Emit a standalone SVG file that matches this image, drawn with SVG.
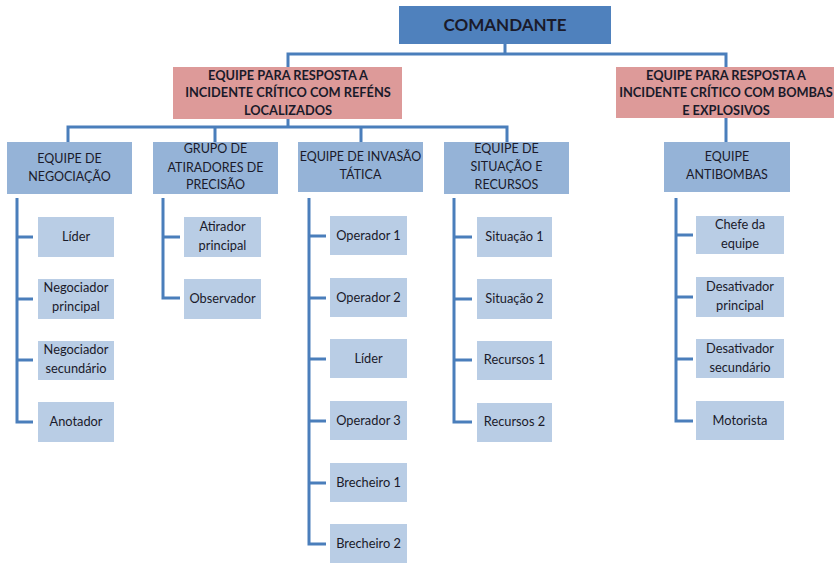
<svg xmlns="http://www.w3.org/2000/svg" width="836" height="564" viewBox="0 0 836 564">
<style>
.top{fill:#4f81bd}
.pink{fill:#dd9a99}
.l2{fill:#95b3d7}
.leaf{fill:#b9cde5}
text{font-family:Lato,"Open Sans","Liberation Sans",sans-serif;text-anchor:middle;fill:#1a1a2a}
.t0{font-size:17px;font-weight:bold}
.tp{font-size:12.8px;font-weight:bold}
.t2{font-size:12.5px}
.t3{font-size:12.8px}
.ln{fill:none;stroke:#4a7ebb;stroke-width:3}
</style>
<rect width="836" height="564" fill="#fff"/>
<g id="connectors">
<path class="ln" d="M505,44 V54 M288,67 V54 H726 V67 M726,118 V142"/>
<path class="ln" d="M288,119 V127 M68,142 V127 H507 V142 M215,127 V142 M361,127 V142"/>
<path class="ln" d="M17,198 V422 H33 M17,237 H33 M17,299 H33 M17,360 H33"/>
<path class="ln" d="M163,198 V298 H180 M163,237 H180"/>
<path class="ln" d="M309,198 V544 H326 M309,236 H326 M309,298 H326 M309,359 H326 M309,421 H326 M309,483 H326"/>
<path class="ln" d="M454,198 V422 H472 M454,237 H472 M454,299 H472 M454,360 H472"/>
<path class="ln" d="M676,198 V421 H693 M676,235 H693 M676,297 H693 M676,359 H693"/>
</g>
<g id="comandante"><rect class="top" x="399" y="6" width="212" height="38"/><text class="t0" x="505" y="31">COMANDANTE</text></g>
<g id="refens"><rect class="pink" x="173" y="67" width="229" height="52"/>
<text class="tp"><tspan x="288" y="80">EQUIPE PARA RESPOSTA A</tspan><tspan x="288" y="97">INCIDENTE CRÍTICO COM REFÉNS</tspan><tspan x="288" y="115">LOCALIZADOS</tspan></text></g>
<g id="bombas"><rect class="pink" x="616" y="67" width="218" height="51"/>
<text class="tp"><tspan x="726" y="80">EQUIPE PARA RESPOSTA A</tspan><tspan x="726" y="97">INCIDENTE CRÍTICO COM BOMBAS</tspan><tspan x="726" y="115">E EXPLOSIVOS</tspan></text></g>
<g id="negociacao"><rect class="l2" x="7" y="142" width="125" height="52"/><text class="t2"><tspan x="69.5" y="163">EQUIPE DE</tspan><tspan x="69.5" y="181">NEGOCIAÇÃO</tspan></text></g>
<g id="atiradores"><rect class="l2" x="153" y="142" width="125" height="52"/><text class="t2"><tspan x="215.5" y="153">GRUPO DE</tspan><tspan x="215.5" y="172">ATIRADORES DE</tspan><tspan x="215.5" y="189">PRECISÃO</tspan></text></g>
<g id="invasao"><rect class="l2" x="298" y="142" width="125" height="50"/><text class="t2"><tspan x="360.5" y="161">EQUIPE DE INVASÃO</tspan><tspan x="360.5" y="179">TÁTICA</tspan></text></g>
<g id="situacao"><rect class="l2" x="444" y="142" width="125" height="52"/><text class="t2"><tspan x="506.5" y="153">EQUIPE DE</tspan><tspan x="506.5" y="171">SITUAÇÃO E</tspan><tspan x="506.5" y="189">RECURSOS</tspan></text></g>
<g id="antibombas"><rect class="l2" x="664" y="142" width="126" height="50"/><text class="t2"><tspan x="727" y="161">EQUIPE</tspan><tspan x="727" y="179">ANTIBOMBAS</tspan></text></g>
<g id="neg-lider"><rect class="leaf" x="38" y="217" width="76" height="40"/><text class="t3" x="76" y="241">Líder</text></g>
<g id="neg-principal"><rect class="leaf" x="38" y="279" width="76" height="40"/><text class="t3"><tspan x="76" y="292">Negociador</tspan><tspan x="76" y="311">principal</tspan></text></g>
<g id="neg-secundario"><rect class="leaf" x="38" y="341" width="76" height="39"/><text class="t3"><tspan x="76" y="354">Negociador</tspan><tspan x="76" y="373">secundário</tspan></text></g>
<g id="neg-anotador"><rect class="leaf" x="38" y="402" width="76" height="40"/><text class="t3" x="76" y="426">Anotador</text></g>
<g id="at-principal"><rect class="leaf" x="184" y="217" width="77" height="40"/><text class="t3"><tspan x="222.5" y="231">Atirador</tspan><tspan x="222.5" y="250">principal</tspan></text></g>
<g id="at-observador"><rect class="leaf" x="184" y="279" width="77" height="40"/><text class="t3" x="222.5" y="303">Observador</text></g>
<g id="inv-op1"><rect class="leaf" x="330" y="216" width="77" height="39"/><text class="t3" x="368.5" y="240">Operador 1</text></g>
<g id="inv-op2"><rect class="leaf" x="330" y="278" width="77" height="39"/><text class="t3" x="368.5" y="302">Operador 2</text></g>
<g id="inv-lider"><rect class="leaf" x="330" y="339" width="77" height="39"/><text class="t3" x="368.5" y="363">Líder</text></g>
<g id="inv-op3"><rect class="leaf" x="330" y="401" width="77" height="39"/><text class="t3" x="368.5" y="425">Operador 3</text></g>
<g id="inv-brech1"><rect class="leaf" x="330" y="463" width="77" height="39"/><text class="t3" x="368.5" y="487">Brecheiro 1</text></g>
<g id="inv-brech2"><rect class="leaf" x="330" y="524" width="77" height="39"/><text class="t3" x="368.5" y="548">Brecheiro 2</text></g>
<g id="sit-1"><rect class="leaf" x="477" y="217" width="75" height="40"/><text class="t3" x="514.5" y="241">Situação 1</text></g>
<g id="sit-2"><rect class="leaf" x="477" y="279" width="75" height="40"/><text class="t3" x="514.5" y="303">Situação 2</text></g>
<g id="rec-1"><rect class="leaf" x="477" y="341" width="75" height="39"/><text class="t3" x="514.5" y="364">Recursos 1</text></g>
<g id="rec-2"><rect class="leaf" x="477" y="403" width="75" height="39"/><text class="t3" x="514.5" y="426">Recursos 2</text></g>
<g id="ab-chefe"><rect class="leaf" x="696" y="216" width="88" height="38"/><text class="t3"><tspan x="740" y="229">Chefe da</tspan><tspan x="740" y="248">equipe</tspan></text></g>
<g id="ab-principal"><rect class="leaf" x="696" y="277" width="88" height="40"/><text class="t3"><tspan x="740" y="291">Desativador</tspan><tspan x="740" y="310">principal</tspan></text></g>
<g id="ab-secundario"><rect class="leaf" x="696" y="339" width="88" height="39"/><text class="t3"><tspan x="740" y="353">Desativador</tspan><tspan x="740" y="372">secundário</tspan></text></g>
<g id="ab-motorista"><rect class="leaf" x="696" y="401" width="88" height="39"/><text class="t3" x="740" y="425">Motorista</text></g>
</svg>
